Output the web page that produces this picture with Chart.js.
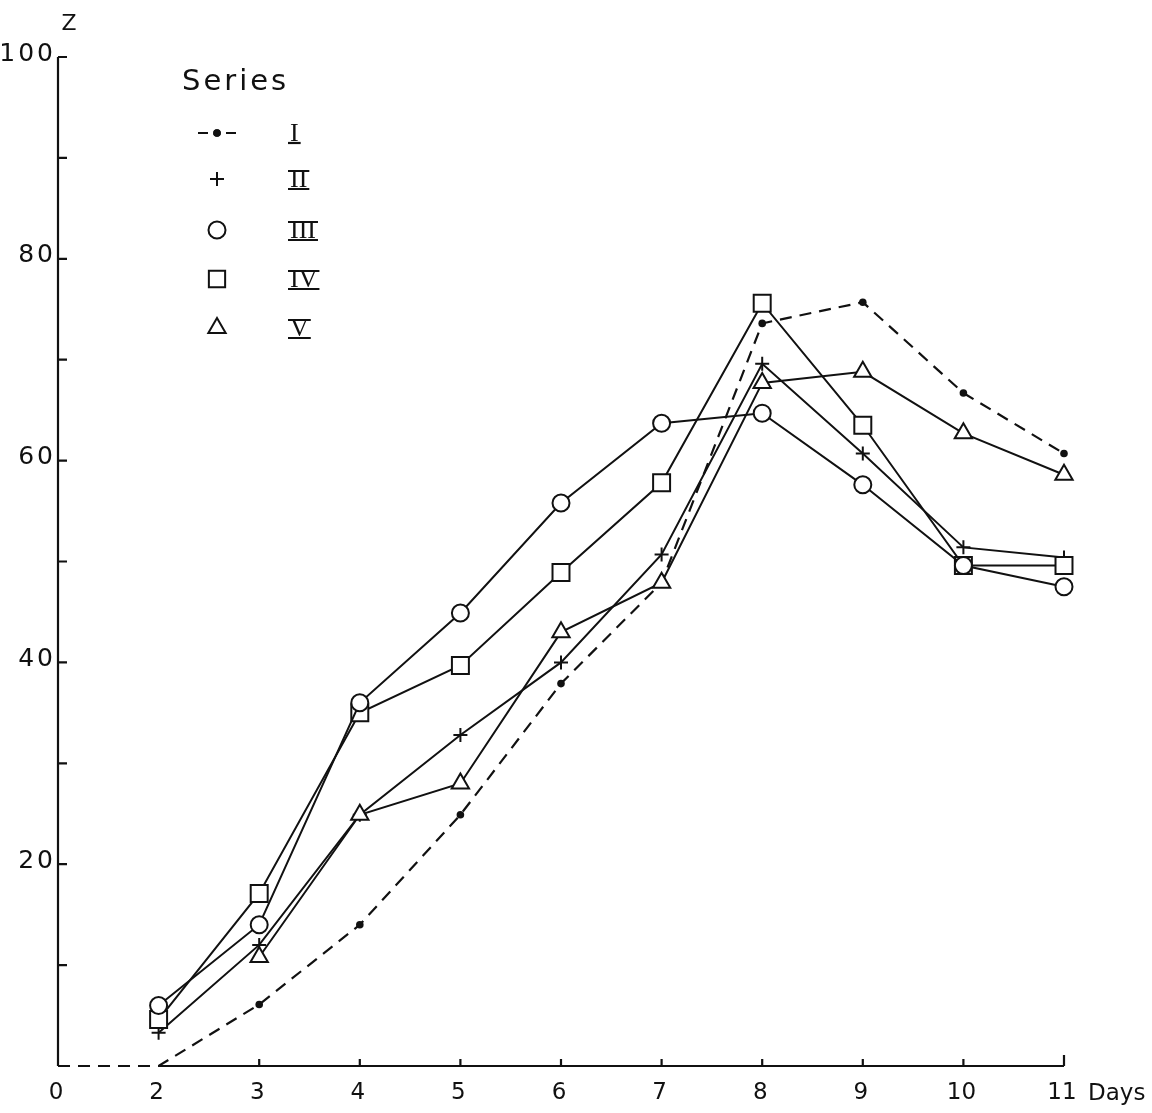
<!DOCTYPE html>
<html>
<head>
<meta charset="utf-8">
<script src="https://cdn.jsdelivr.net/npm/chart.js@4/dist/chart.umd.min.js"></script>
<style>
  html, body { margin: 0; padding: 0; background: #fff; }
  #wrap { width: 1152px; height: 1113px; position: relative; }
</style>
</head>
<body>
<div id="wrap"><canvas id="chart"></canvas></div>
<script>
// categorie (giorni) - lo 0 e' separato dal 2 come nel grafico originale
const days = ['0', '2', '3', '4', '5', '6', '7', '8', '9', '10', '11'];

// valori (Z %)
const seriesI   = [0, 0, 6.1, 14, 24.9, 37.9, 47.9, 73.6, 75.7, 66.7, 60.7];
const seriesII  = [null, 3.3, 12, 24.9, 32.8, 40, 50.7, 69.6, 60.7, 51.4, 50.4];
const seriesIII = [null, 6, 14, 36, 44.9, 55.8, 63.7, 64.7, 57.6, 49.6, 47.5];
const seriesIV  = [null, 4.6, 17.1, 35, 39.7, 48.9, 57.8, 75.6, 63.5, 49.6, 49.6];
const seriesV   = [null, null, 10.8, 24.9, 28, 43, 47.9, 67.7, 68.8, 62.7, 58.6];

const yLabels = [20, 40, 60, 80, 100];
const yMinor = [10, 20, 30, 40, 50, 60, 70, 80, 90, 100];
const seriesNames = ['I', 'II', 'III', 'IV', 'V'];

const INK = '#111';

function lineSet(label, data, style, radius) {
    return {
        label: label,
        data: data,
        borderColor: INK,
        borderWidth: 2,
        pointStyle: style,
        pointRadius: radius,
        pointBorderWidth: 2,
        pointBorderColor: INK,
        pointBackgroundColor: '#fff',
        tension: 0,
        clip: false
    };
}

const datasets = [
    lineSet('III', seriesIII, 'circle', 8.5),
    lineSet('IV', seriesIV, 'rect', 12),
    lineSet('V', seriesV, 'triangle', 10),
    lineSet('II', seriesII, 'cross', 7),
    {
        label: 'I',
        data: seriesI,
        borderColor: INK,
        borderWidth: 2.2,
        borderDash: [12, 8],
        pointStyle: 'circle',
        pointRadius: ctx => ctx.dataIndex < 2 ? 0 : 3.8,
        pointBorderWidth: 0,
        pointBackgroundColor: INK,
        tension: 0,
        clip: false
    }
];

// disegno assi "a mano" come nell'originale (tacche interne)
const axesPlugin = {
    id: 'axesPlugin',
    afterDraw(chart) {
        const ctx = chart.ctx;
        const xs = chart.scales.x;
        const ys = chart.scales.y;
        const x0 = xs.getPixelForValue(0);
        const yb = ys.getPixelForValue(0);

        ctx.save();
        ctx.strokeStyle = INK;
        ctx.fillStyle = INK;
        ctx.lineWidth = 2.2;

        // asse y
        ctx.beginPath();
        ctx.moveTo(x0, yb);
        ctx.lineTo(x0, ys.getPixelForValue(100));
        yMinor.forEach(v => {
            const py = ys.getPixelForValue(v);
            ctx.moveTo(x0, py);
            ctx.lineTo(x0 + 9, py);
        });
        ctx.stroke();

        ctx.font = '25px "DejaVu Sans"';
        ctx.textAlign = 'right';
        ctx.textBaseline = 'middle';
        if ('letterSpacing' in ctx) ctx.letterSpacing = '3px';
        yLabels.forEach(v => {
            ctx.fillText(String(v), x0 - 2, ys.getPixelForValue(v) - 3);
        });
        if ('letterSpacing' in ctx) ctx.letterSpacing = '0px';
        ctx.font = '22px "DejaVu Sans"';
        ctx.textAlign = 'center';
        ctx.fillText('Z', x0 + 11, 24);

        // asse x (pieno da 2 a 11)
        ctx.beginPath();
        ctx.moveTo(xs.getPixelForValue(1), yb);
        ctx.lineTo(xs.getPixelForValue(days.length - 1), yb);
        for (let i = 2; i < days.length; i++) {
            const px = xs.getPixelForValue(i);
            const len = i === days.length - 1 ? 11 : 7;
            ctx.moveTo(px, yb);
            ctx.lineTo(px, yb - len);
        }
        ctx.stroke();

        ctx.font = '23px "DejaVu Sans"';
        ctx.textAlign = 'center';
        ctx.textBaseline = 'middle';
        days.forEach((d, i) => {
            ctx.fillText(d, xs.getPixelForValue(i) - 2, yb + 27);
        });
        ctx.textAlign = 'left';
        ctx.fillText('Days', xs.getPixelForValue(days.length - 1) + 24, yb + 28);

        // legenda
        ctx.font = '29px "DejaVu Sans"';
        ctx.textAlign = 'left';
        ctx.textBaseline = 'alphabetic';
        if ('letterSpacing' in ctx) ctx.letterSpacing = '3px';
        ctx.fillText('Series', 182, 90);
        if ('letterSpacing' in ctx) ctx.letterSpacing = '0px';

        const rowsY = [133, 179, 230, 279, 328];
        const symX = 217;
        const order = ['I', 'II', 'III', 'IV', 'V'];
        order.forEach((name, k) => {
            const ds = chart.data.datasets.find(d => d.label === name);
            const ry = rowsY[k];
            ctx.lineWidth = 2;
            ctx.strokeStyle = INK;
            ctx.fillStyle = name === 'I' ? INK : '#fff';
            if (name === 'I') {
                ctx.beginPath();
                ctx.moveTo(symX - 19, ry);
                ctx.lineTo(symX - 9, ry);
                ctx.moveTo(symX + 9, ry);
                ctx.lineTo(symX + 19, ry);
                ctx.stroke();
                Chart.helpers.drawPoint(ctx, { pointStyle: 'circle', radius: 3.8, borderWidth: 0 }, symX, ry);
                ctx.fill();
            } else {
                const r = { II: 7, III: 8.5, IV: 11.5, V: 10 }[name];
                Chart.helpers.drawPoint(ctx, { pointStyle: ds.pointStyle, radius: r, borderWidth: 2 }, symX, ry);
            }

            // numerale romano con barre sopra e sotto
            ctx.fillStyle = INK;
            ctx.font = '26px "Liberation Serif"';
            ctx.textAlign = 'left';
            ctx.textBaseline = 'middle';
            const tx = 290;
            ctx.fillText(seriesNames[k], tx, ry + 1);
            const w = ctx.measureText(seriesNames[k]).width;
            ctx.lineWidth = 2.2;
            ctx.beginPath();
            ctx.moveTo(tx - 2, ry + 10);
            ctx.lineTo(tx + w + 2, ry + 10);
            if (name !== 'I') {
                ctx.moveTo(tx - 2, ry - 8);
                ctx.lineTo(tx + w + 2, ry - 8);
            }
            ctx.stroke();
        });

        ctx.restore();
    }
};

new Chart(document.getElementById('chart'), {
    type: 'line',
    data: { labels: days, datasets: datasets },
    options: {
        responsive: true,
        maintainAspectRatio: false,
        animation: false,
        layout: { padding: { left: 58, right: 88, top: 57, bottom: 47 } },
        scales: {
            x: { type: 'category', offset: false, display: false },
            y: { min: 0, max: 100, display: false }
        },
        plugins: {
            legend: { display: false },
            tooltip: { enabled: false }
        }
    },
    plugins: [axesPlugin]
});
</script>
</body>
</html>
